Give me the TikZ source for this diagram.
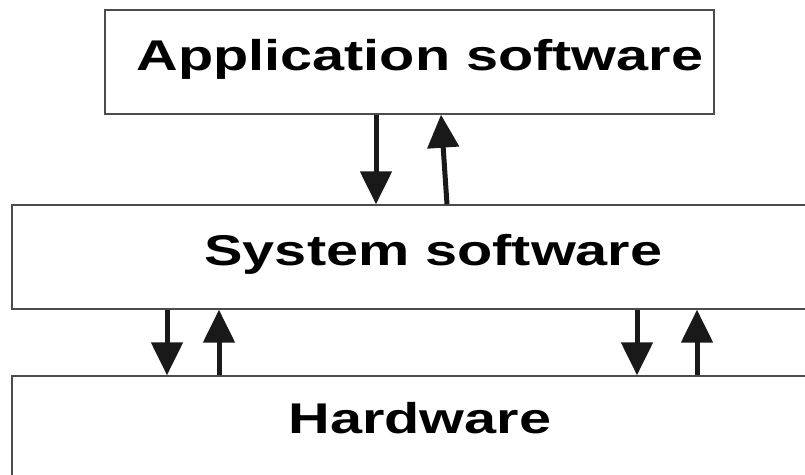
\documentclass[tikz,border=0pt]{standalone}
\usepackage{fontspec}
\setmainfont{Liberation Sans}
\usetikzlibrary{arrows.meta, positioning}
\tikzset{
	layer/.style={draw=black!70, line width=0.7pt, rectangle, inner sep=0pt},
	caption/.style={font=\fontsize{21.5}{25}\selectfont\bfseries, xscale=1.34, transform shape, anchor=base, inner sep=0pt},
	flow/.style={-{Triangle[width=15.5pt, length=16.5pt]}, line width=2.5pt, black!90},
}

\begin{document}
\begin{tikzpicture}[x=0.5pt, y=-0.5pt]
	\useasboundingbox (0,0) rectangle (805,475);
	\clip (0,0) rectangle (805,475);
	% layers
	\node[layer, minimum width=304.5pt, minimum height=52pt] (app) at (409.5,62) {};
	\node[layer, minimum width=409pt, minimum height=52pt] (sys) at (421,257) {};
	\node[layer, minimum width=409pt, minimum height=62pt] (hw) at (421,438) {};
	\node[caption] (apptxt) at (420,71) {Application software};
	\node[caption] (systxt) at (433.5,266) {System software};
	\node[caption] (hwtxt) at (420,434) {Hardware};
	% calls down, results up
	\draw[flow] (app.south -| 376,0) -- (sys.north -| 376,0);
	\draw[flow] (sys.north -| 447,0) -- (app.south -| 441,0);
	\draw[flow] (sys.south -| 167,0) -- (hw.north -| 167,0);
	\draw[flow] (hw.north -| 219,0) -- (sys.south -| 219,0);
	\draw[flow] (sys.south -| 637,0) -- (hw.north -| 637,0);
	\draw[flow] (hw.north -| 697,0) -- (sys.south -| 697,0);
\end{tikzpicture}
\end{document}
